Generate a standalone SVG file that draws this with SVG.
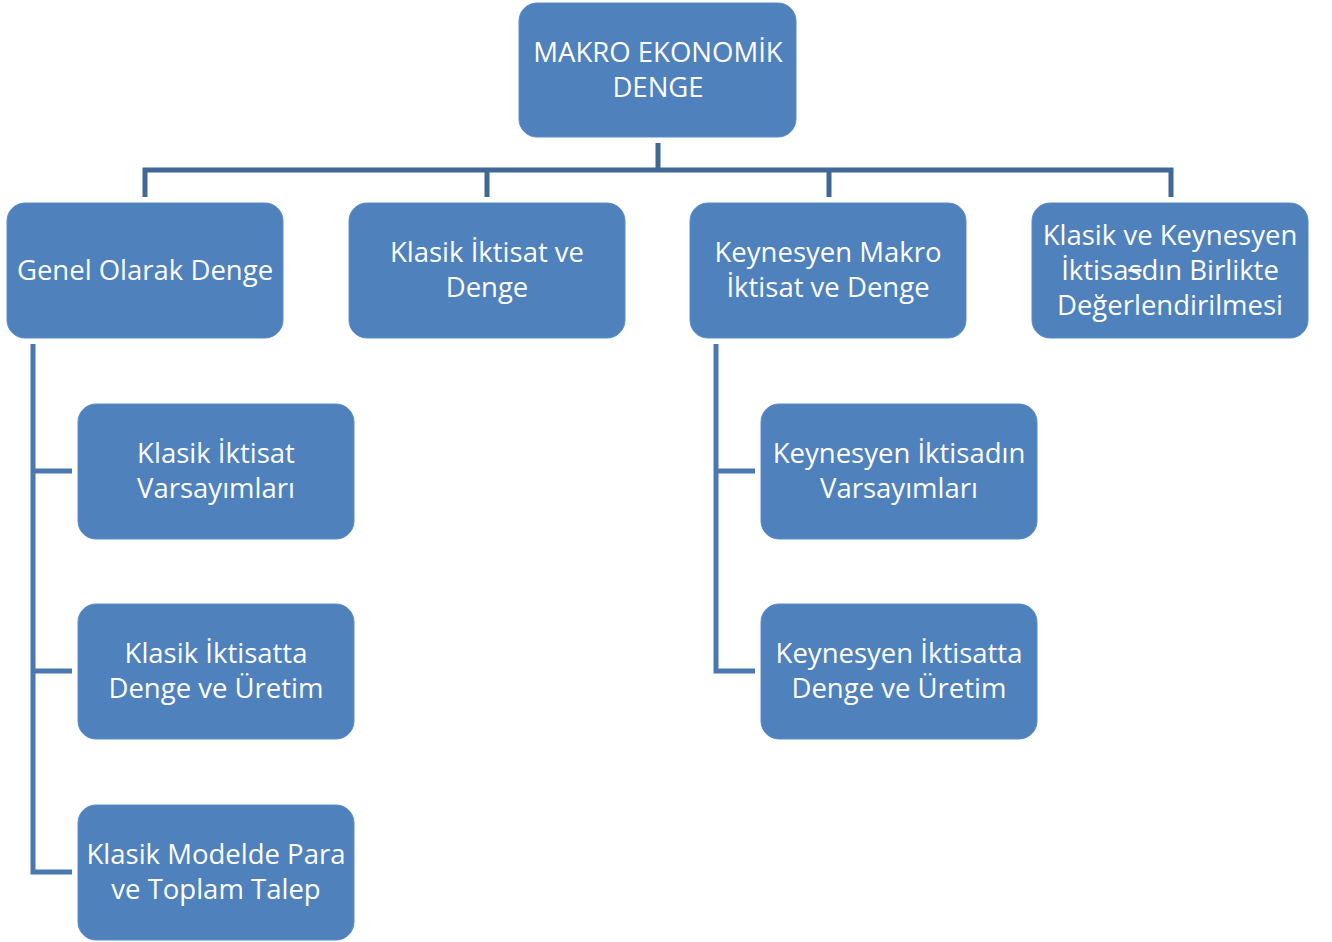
<svg xmlns="http://www.w3.org/2000/svg" width="1332" height="942" viewBox="0 0 1332 942">
<style>
.box{fill:#4F81BD;stroke:#5B8CC6;stroke-width:1}
.t{font-family:"Open Sans","Noto Sans",sans-serif;font-size:27.5px;fill:#FFFFFF;text-anchor:middle}
.c1{fill:none;stroke:#3F6897;stroke-width:5;stroke-linejoin:miter;stroke-linecap:butt}
.c2{fill:none;stroke:#4A79B2;stroke-width:5;stroke-linejoin:miter;stroke-linecap:butt}
</style>
<rect width="1332" height="942" fill="#FFFFFF"/>
<g id="connectors">
<path class="c1" d="M658,143 V170"/>
<path class="c1" d="M145,197 V170 H1171 V197"/>
<path class="c1" d="M487,170 V197"/>
<path class="c1" d="M829,170 V197"/>
<path class="c2" d="M33,344 V872 H72"/>
<path class="c2" d="M33,471 H72"/>
<path class="c2" d="M33,671 H72"/>
<path class="c2" d="M716,344 V671 H755"/>
<path class="c2" d="M716,471 H755"/>
</g>
<g id="root">
<rect class="box" x="519" y="3" width="277" height="134" rx="18"/>
<text class="t" x="658" y="62">MAKRO EKONOMİK</text>
<text class="t" x="658" y="97">DENGE</text>
</g>
<g id="genel">
<rect class="box" x="7" y="203" width="276" height="135" rx="18"/>
<text class="t" x="145" y="280">Genel Olarak Denge</text>
</g>
<g id="klasik">
<rect class="box" x="349" y="203" width="276" height="135" rx="18"/>
<text class="t" x="487" y="262">Klasik İktisat ve</text>
<text class="t" x="487" y="297">Denge</text>
</g>
<g id="keynesyen">
<rect class="box" x="690" y="203" width="276" height="135" rx="18"/>
<text class="t" x="828" y="262">Keynesyen Makro</text>
<text class="t" x="828" y="297">İktisat ve Denge</text>
</g>
<g id="birlikte">
<rect class="box" x="1032" y="203" width="276" height="135" rx="18"/>
<text class="t" x="1170" y="245">Klasik ve Keynesyen</text>
<text class="t" x="1170" y="280">İktisa<tspan text-decoration="line-through">s</tspan>dın Birlikte</text>
<text class="t" x="1170" y="315">Değerlendirilmesi</text>
</g>
<g id="klasik-varsayim">
<rect class="box" x="78" y="404" width="276" height="135" rx="18"/>
<text class="t" x="216" y="463">Klasik İktisat</text>
<text class="t" x="216" y="498">Varsayımları</text>
</g>
<g id="klasik-uretim">
<rect class="box" x="78" y="604" width="276" height="135" rx="18"/>
<text class="t" x="216" y="663">Klasik İktisatta</text>
<text class="t" x="216" y="698">Denge ve Üretim</text>
</g>
<g id="klasik-para">
<rect class="box" x="78" y="805" width="276" height="135" rx="18"/>
<text class="t" x="216" y="864">Klasik Modelde Para</text>
<text class="t" x="216" y="899">ve Toplam Talep</text>
</g>
<g id="keynes-varsayim">
<rect class="box" x="761" y="404" width="276" height="135" rx="18"/>
<text class="t" x="899" y="463">Keynesyen İktisadın</text>
<text class="t" x="899" y="498">Varsayımları</text>
</g>
<g id="keynes-uretim">
<rect class="box" x="761" y="604" width="276" height="135" rx="18"/>
<text class="t" x="899" y="663">Keynesyen İktisatta</text>
<text class="t" x="899" y="698">Denge ve Üretim</text>
</g>
</svg>
